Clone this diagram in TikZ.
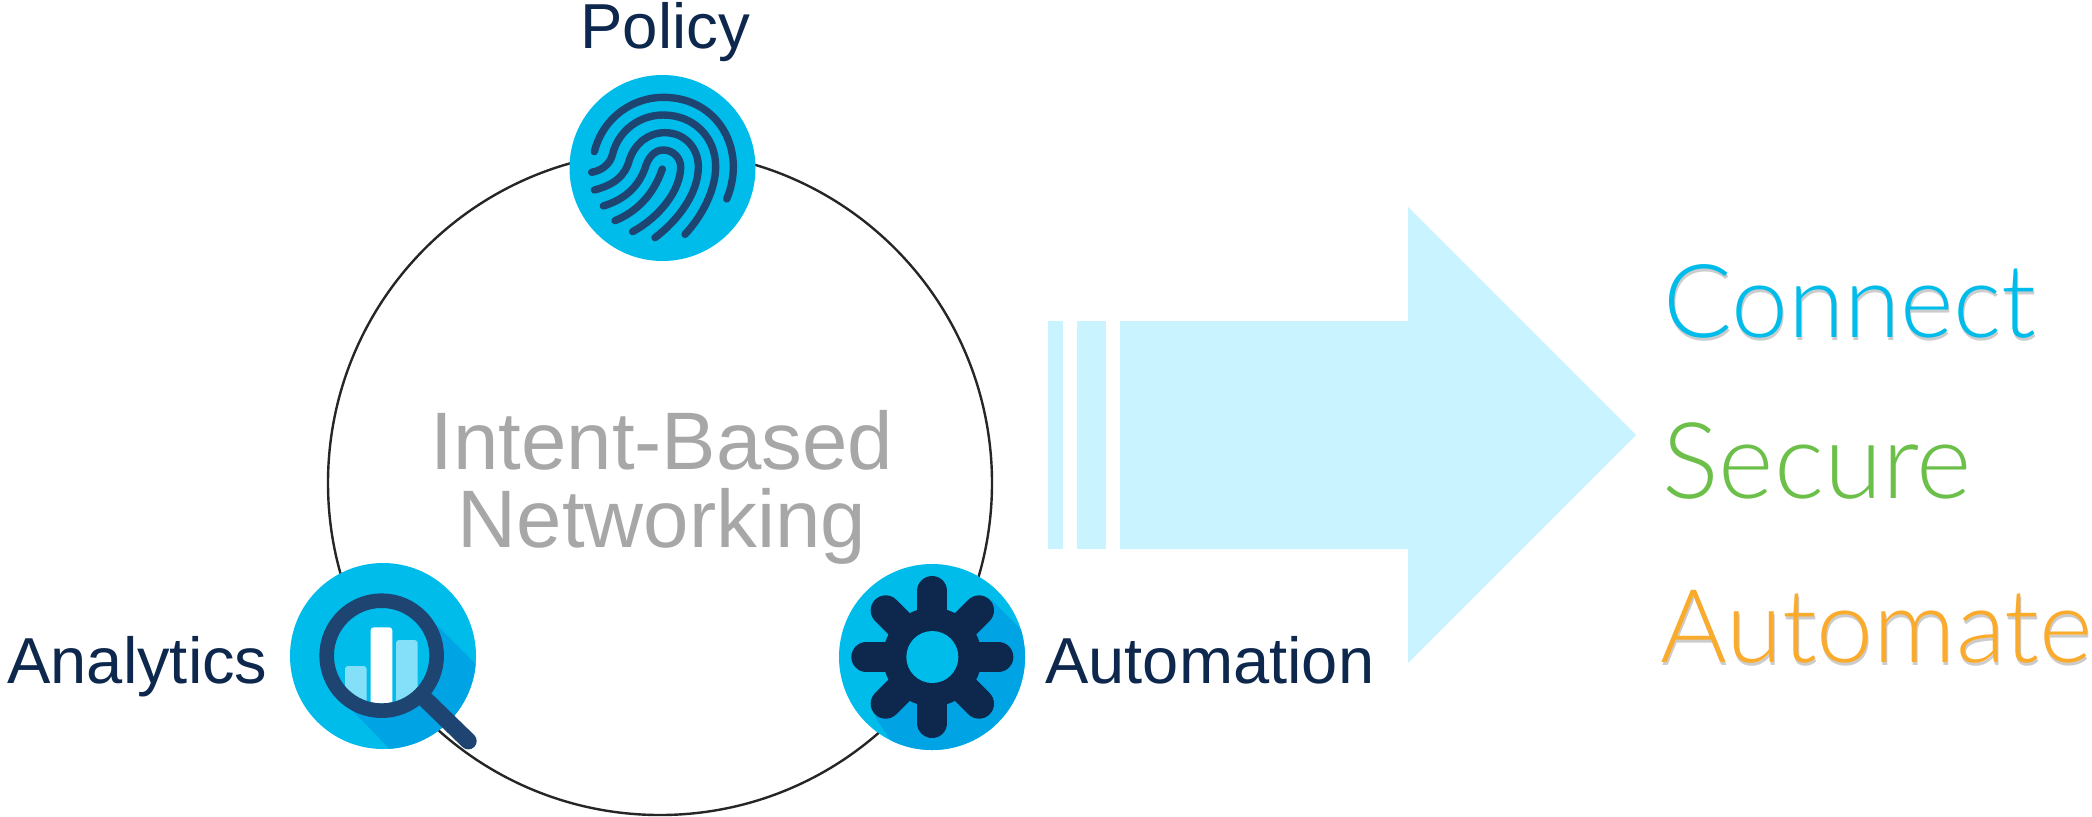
\documentclass[tikz,border=0pt]{standalone}
\usepackage{fontspec}
\setmainfont{Liberation Sans}
\newfontfamily\lightfont[Ligatures=CommonOff]{Lato Light}
\definecolor{iconblue}{HTML}{00BCEB}
\definecolor{iconshade}{HTML}{00A3E3}
\definecolor{printblue}{HTML}{1E4471}
\definecolor{navy}{HTML}{0D274D}
\definecolor{barlight}{HTML}{84DFF9}
\definecolor{arrowblue}{HTML}{C8F3FF}
\definecolor{midgray}{HTML}{A7A7A7}
\definecolor{securegreen}{HTML}{6CC04A}
\definecolor{autoorange}{HTML}{FBAB2C}
\tikzset{
  label/.style={inner sep=0pt,anchor=base west,text=navy,font=\fontsize{32.5}{38}\selectfont},
  outcome/.style={inner sep=0pt,anchor=base west,font=\lightfont\fontsize{51}{60}\selectfont},
  outshade/.style={outcome,text=black,opacity=0.2},
  ridge/.style={draw=printblue,line width=3.7pt,line cap=round}
}
\begin{document}
\begin{tikzpicture}[x=0.5pt,y=-0.5pt]
    \useasboundingbox (0,0) rectangle (2092,816);

    % let's define some key values
    \def\iconr{93}
    \coordinate (ringc) at (660,483);
    \coordinate (polc) at (662.5,168);
    \coordinate (anac) at (383,656);
    \coordinate (autc) at (932,657);

    % big ring
    \draw[line width=1.2pt,color=black!85] (ringc) circle (332);

    % policy icon
    \fill[iconblue] (polc) circle (\iconr);
    \begin{scope}[shift={(550,0)},scale=1/3]
    \draw[ridge] (133,455) .. controls (160,350) and (250,292) .. (340,292)
        .. controls (470,292) and (550,390) .. (550,500)
        .. controls (550,535) and (542,570) .. (530,597);
    \draw[ridge] (125,517) .. controls (160,510) and (180,490) .. (187,465)
        .. controls (205,390) and (270,345) .. (340,345)
        .. controls (430,345) and (497,410) .. (497,500)
        .. controls (497,570) and (455,650) .. (405,703);
    \draw[ridge] (133,570) .. controls (190,555) and (225,530) .. (238,480)
        .. controls (255,430) and (295,398) .. (345,398)
        .. controls (405,398) and (445,445) .. (445,500)
        .. controls (445,580) and (385,660) .. (315,713);
    \draw[ridge] (160,618) .. controls (225,598) and (265,560) .. (285,505)
        .. controls (295,470) and (315,450) .. (340,450)
        .. controls (370,450) and (392,475) .. (392,500)
        .. controls (392,570) and (330,650) .. (248,695);
    \draw[ridge] (195,662) .. controls (260,635) and (310,585) .. (337,507);
    \end{scope}

    % analytics icon
    \fill[iconblue] (anac) circle (\iconr);
    \begin{scope}
    \clip (anac) circle (\iconr);
    \begin{scope}[shift={(280,550)},scale=1/3]
    \fill[iconshade] (470,225) -- (700,455) -- (440,710) -- (215,480) -- cycle;
    \end{scope}
    \end{scope}
    \begin{scope}[shift={(280,550)},scale=1/3]
    \fill[iconblue] (305,317) circle (165);
    \begin{scope}
    \clip (305,317) circle (143);
    \fill[barlight,rounded corners=1.5pt] (195,348) rectangle (260,520);
    \fill[white,rounded corners=1.5pt] (272,232) rectangle (337,520);
    \fill[barlight,rounded corners=1.5pt] (348,270) rectangle (413,520);
    \end{scope}
    \draw[printblue,line width=7.3pt] (305,317) circle (165);
    \draw[printblue,line width=8.4pt,line cap=round] (435,447) -- (565,573);
    \end{scope}

    % automation icon
    \fill[iconblue] (autc) circle (\iconr);
    \begin{scope}
    \clip (autc) circle (\iconr);
    \begin{scope}[shift={(825,560)},scale=1/3]
    \fill[iconshade] (500,120) -- (700,320) -- (300,700) -- (150,470) -- cycle;
    \end{scope}
    \end{scope}
    \begin{scope}[shift={(825,560)},scale=1/3]
    \fill[navy] (322,291) circle (148);
    \foreach \ang in {0,45,...,315}
        \draw[navy,line width=15pt,line cap=round] (322,291) -- ++(\ang:198);
    \fill[iconblue] (322,291) circle (78);
    \end{scope}

    % big arrow with its stripes
    \fill[arrowblue] (1048,321) rectangle (1063,549);
    \fill[arrowblue] (1077,321) rectangle (1106,549);
    \fill[arrowblue] (1120,321) -- (1408,321) -- (1408,207) -- (1636,435)
        -- (1408,663) -- (1408,549) -- (1120,549) -- cycle;

    % labels
    \node[label,font=\fontsize{31.8}{38}\selectfont] (policy) at (580,48) {Policy};
    \node[label] (analytics) at (7,683) {Analytics};
    \node[label] (automation) at (1045,683) {Automation};
    \node[inner sep=0pt,text=midgray,align=center,font=\fontsize{40.8}{39}\selectfont]
        (ibn) at (662,487) {Intent-Based\\Networking};

    % soft shadows behind two of the outcomes
    \node[outshade] (connectsh) at (1664,340) {Connect};
    \node[outshade] (automatesh) at (1661,665) {Automate};

    % outcomes
    \node[outcome,text=iconblue] (connect) at (1663,337) {Connect};
    \node[outcome,text=securegreen,font=\lightfont\fontsize{53}{60}\selectfont] (secure) at (1662,498) {Secure};
    \node[outcome,text=autoorange] (automate) at (1660,662) {Automate};

\end{tikzpicture}
\end{document}
